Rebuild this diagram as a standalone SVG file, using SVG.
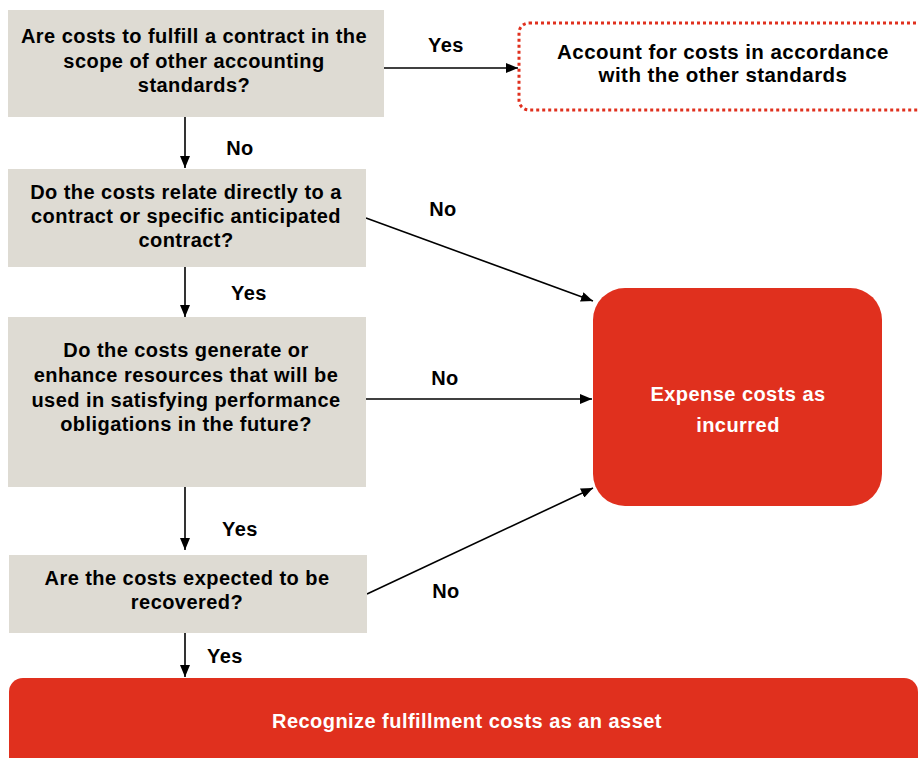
<svg xmlns="http://www.w3.org/2000/svg" width="918" height="758" viewBox="0 0 918 758">
<style>
.q{fill:#dedbd3}
.t{font-family:"Liberation Sans",Arial,sans-serif;font-weight:bold;font-size:20px;letter-spacing:0.45px;text-anchor:middle;fill:#000}
.w{fill:#fff}
.red{fill:#e0301e}
.c{stroke:#000;stroke-width:1.6;fill:none;marker-end:url(#ah)}
</style>
<defs>
<marker id="ah" viewBox="0 0 12 10" refX="12" refY="5" markerWidth="12" markerHeight="10" markerUnits="userSpaceOnUse" orient="auto">
<path d="M0,0 L12,5 L0,10 z" fill="#000"/>
</marker>
</defs>
<g id="connectors">
<line class="c" x1="384" y1="68" x2="518" y2="68"/>
<line class="c" x1="185" y1="117" x2="185" y2="168"/>
<line class="c" x1="366" y1="218" x2="593" y2="301"/>
<line class="c" x1="185" y1="267" x2="185" y2="317"/>
<line class="c" x1="366" y1="399" x2="592" y2="399"/>
<line class="c" x1="185" y1="487" x2="185" y2="550"/>
<line class="c" x1="367" y1="594" x2="593" y2="488"/>
<line class="c" x1="185" y1="633" x2="185" y2="677"/>
<text class="t" x="446" y="52">Yes</text>
<text class="t" x="240" y="155">No</text>
<text class="t" x="443" y="216">No</text>
<text class="t" x="249" y="300">Yes</text>
<text class="t" x="445" y="385">No</text>
<text class="t" x="240" y="536">Yes</text>
<text class="t" x="446" y="598">No</text>
<text class="t" x="225" y="663">Yes</text>
</g>
<g id="q1">
<rect class="q" x="8" y="10" width="376" height="107"/>
<text class="t" x="194" y="43">Are costs to fulfill a contract in the</text>
<text class="t" x="194" y="67.5">scope of other accounting</text>
<text class="t" x="194" y="92">standards?</text>
</g>
<g id="other">
<rect x="519" y="23" width="420" height="87" rx="10" fill="#fff" stroke="#e0301e" stroke-width="3" stroke-dasharray="3 3"/>
<text class="t" x="723" y="59" style="font-size:20.5px;letter-spacing:0.45px">Account for costs in accordance</text>
<text class="t" x="723" y="82" style="font-size:20.5px;letter-spacing:0.45px">with the other standards</text>
</g>
<g id="q2">
<rect class="q" x="8" y="169" width="358" height="98"/>
<text class="t" x="186" y="199">Do the costs relate directly to a</text>
<text class="t" x="186" y="223">contract or specific anticipated</text>
<text class="t" x="186" y="247">contract?</text>
</g>
<g id="q3">
<rect class="q" x="8" y="317" width="358" height="170"/>
<text class="t" x="186" y="357">Do the costs generate or</text>
<text class="t" x="186" y="382">enhance resources that will be</text>
<text class="t" x="186" y="407">used in satisfying performance</text>
<text class="t" x="186" y="431">obligations in the future?</text>
</g>
<g id="q4">
<rect class="q" x="9" y="555" width="358" height="78"/>
<text class="t" x="187" y="585">Are the costs expected to be</text>
<text class="t" x="187" y="609">recovered?</text>
</g>
<g id="expense">
<rect class="red" x="593" y="288" width="289" height="218" rx="32"/>
<text class="t w" x="738" y="401">Expense costs as</text>
<text class="t w" x="738" y="432">incurred</text>
</g>
<g id="asset">
<rect class="red" x="9" y="678" width="909" height="100" rx="14"/>
<text class="t w" x="467" y="728">Recognize fulfillment costs as an asset</text>
</g>
</svg>
